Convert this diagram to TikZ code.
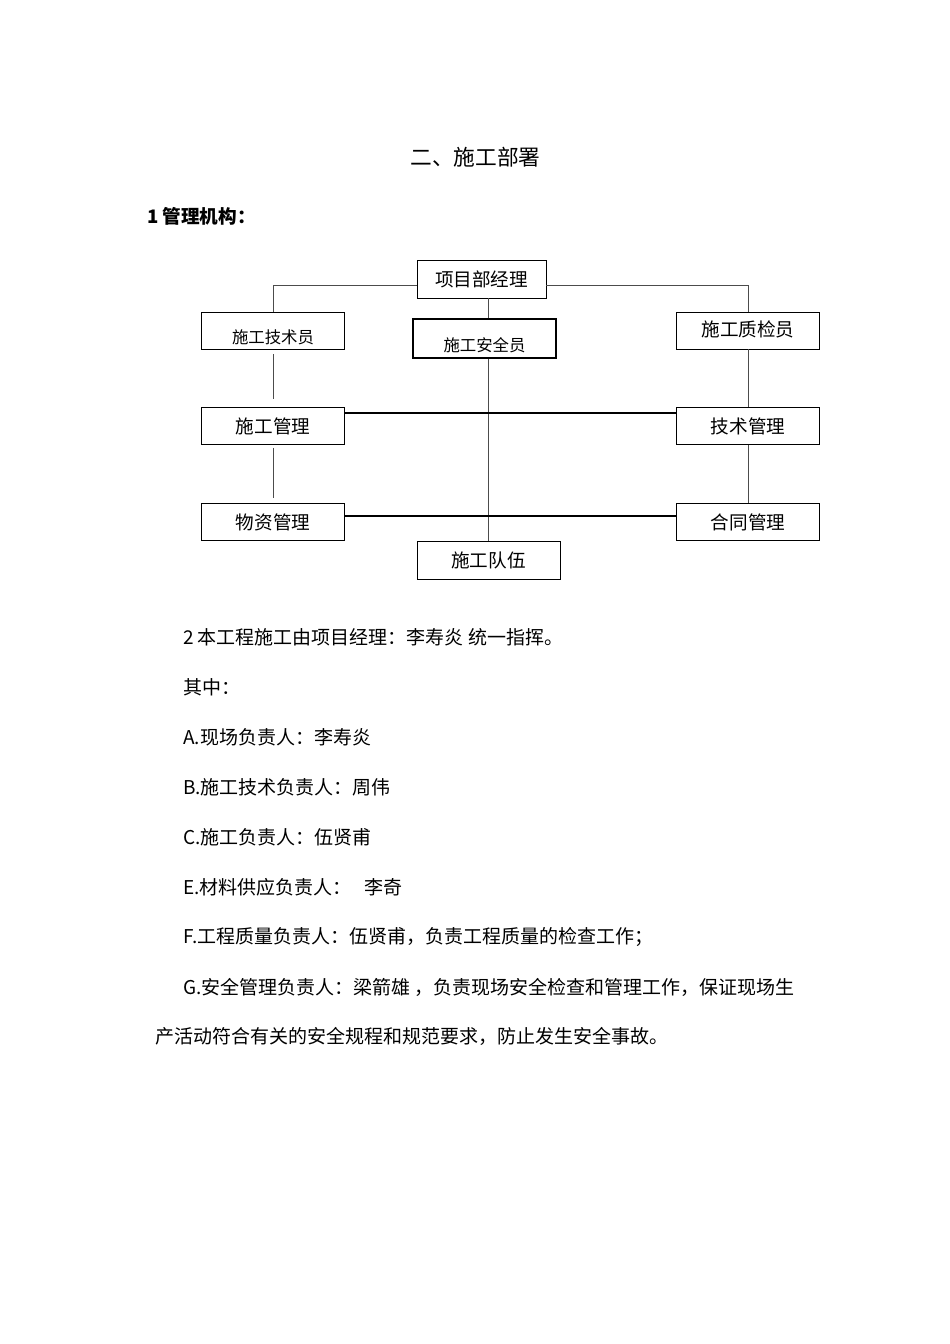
\documentclass[tikz,border=0pt]{standalone}
\usepackage{fontspec}
\setmainfont{Noto Sans CJK SC}
\newcommand{\lowtxt}[2]{\raisebox{#1}[.88em][.12em]{#2}}

\tikzset{
  box/.style={draw, line width=.8pt, minimum width=143pt, minimum height=37pt, inner sep=0pt, font=\fontsize{18.6}{20}\selectfont},
  smalltxt/.style={font=\fontsize{16.4}{18}\selectfont},
  conn/.style={draw=black!70, line width=.9pt},
  bar/.style={draw=black, line width=1.1pt},
  body/.style={anchor=west, inner sep=0pt, font=\fontsize{19}{22}\selectfont},
}

\begin{document}
\begin{tikzpicture}[x=1pt, y=-1pt]
\useasboundingbox (0,0) rectangle (950,1344);
% headings
\node[inner sep=0pt, font=\fontsize{21.7}{24}\selectfont] (title) at (475.5,157) {二、施工部署};
\node[body, font=\bfseries\fontsize{18.6}{22}\selectfont] (sec1) at (147,216) {1 管理机构：};
% org chart
\node[box, minimum width=129pt, minimum height=38pt] (xm) at (481.5,279) {项目部经理};
\node[box, smalltxt] (jsy) at (273,330.5) {\lowtxt{-6.5pt}{施工技术员}};
\node[box, smalltxt, line width=1.8pt, minimum height=39pt] (aqy) at (484.5,338.5) {\lowtxt{-6.5pt}{施工安全员}};
\node[box] (zjy) at (748,330.5) {\lowtxt{1.5pt}{施工质检员}};
\node[box] (sg) at (273,426) {施工管理};
\node[box] (js) at (748,426) {技术管理};
\node[box] (wz) at (273,522) {物资管理};
\node[box] (ht) at (748,522) {合同管理};
\node[box, minimum height=38pt] (dw) at (488.5,560) {施工队伍};
\coordinate (xmL) at ([yshift=-6pt]xm.west);
\coordinate (xmR) at ([yshift=-6pt]xm.east);
\draw[conn] (xmL) -| (jsy.north);
\draw[conn] (xmR) -| (zjy.north);
\draw[conn] (dw.north |- xm.south) -- (dw.north |- aqy.north);
\draw[conn] (dw.north |- aqy.south) -- (dw.north);
\draw[conn] ([yshift=-5pt]jsy.south) -- ([yshift=8pt]sg.north);
\draw[conn] ([yshift=-3pt]sg.south) -- ([yshift=5pt]wz.north);
\draw[conn] (zjy.south) -- (js.north);
\draw[conn] (js.south) -- (ht.north);
\draw[bar] ([yshift=13pt]sg.east) -- ([yshift=13pt]js.west);
\draw[bar] ([yshift=6pt]wz.east) -- ([yshift=6pt]ht.west);
% text
\foreach \txt [count=\i] in {2 本工程施工由项目经理：李寿炎 统一指挥。, 其中：, A.现场负责人：李寿炎, B.施工技术负责人：周伟, C.施工负责人：伍贤甫, E.材料供应负责人：\hspace{.7em}李奇, F.工程质量负责人：伍贤甫，负责工程质量的检查工作；, G.安全管理负责人：梁箭雄 ，负责现场安全检查和管理工作，保证现场生}
  \node[body] (line\i) at (183,587+50*\i) {\txt};
\node[body] (line9) at (155,1036) {产活动符合有关的安全规程和规范要求，防止发生安全事故。};
\end{tikzpicture}
\end{document}
